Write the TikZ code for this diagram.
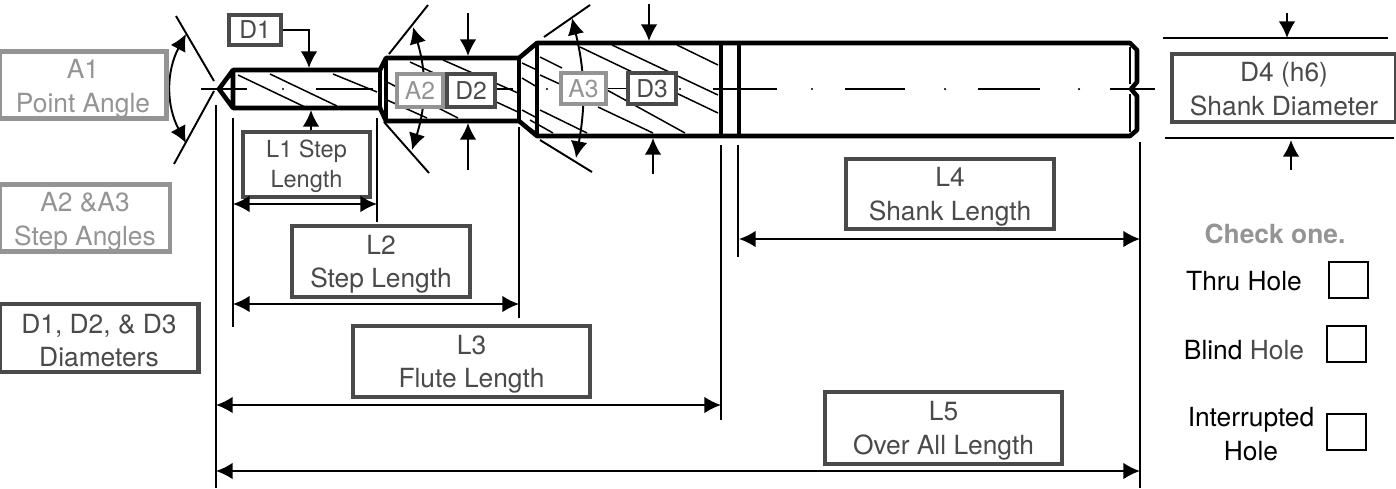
\documentclass[tikz,border=0pt]{standalone}
\usepackage{fontspec}
\setmainfont{TeX Gyre Heros}
\usetikzlibrary{arrows.meta}
\usetikzlibrary{positioning}
\definecolor{boxdark}{HTML}{4A4A4A}
\definecolor{boxlight}{HTML}{949494}
\tikzstyle{arrow} = [line width=1.1pt,-{Latex[length=9.5pt,width=9.5pt]}]
\tikzstyle{darrow} = [line width=1.1pt,{Latex[length=9.5pt,width=9.5pt]}-{Latex[length=9.5pt,width=9.5pt]}]
\tikzstyle{thin line} = [line width=1.1pt]
\tikzstyle{outline} = [line width=2.6pt,line join=round]
\tikzstyle{hatch} = [line width=.85pt]
\tikzstyle{darkbox} = [draw=boxdark,text=boxdark,fill=white,line width=2.4pt,align=center,inner sep=0pt,font=\fontsize{15}{19}\selectfont]
\tikzstyle{lightbox} = [darkbox,draw=boxlight,text=boxlight]
\tikzstyle{checkbox} = [draw=black,line width=1.3pt,minimum width=.78cm,minimum height=.71cm,inner sep=0pt]
\tikzstyle{plain} = [align=center,inner sep=0pt,font=\fontsize{15}{19}\selectfont]
\newcommand{\lowered}[1]{\rule{0pt}{#1}}
\begin{document}
\begin{tikzpicture}[x=.02cm,y=-.02cm]
            \useasboundingbox (0,0) rectangle (1396,488);
            % centre line
            \foreach \xa/\xb in {201/247,316/373,496/513,713/777,845/905,978/1040,1110/1155}
                \draw [hatch] (\xa,89) -- (\xb,89);
            \foreach \xa in {283,547,680,812,945,1079}
                \fill (\xa,89) circle (.7pt);
            % flutes
            \foreach \xa/\ya/\xb/\yb in {238/75/305/107,270/74/337/106,333/74/377/92,
                    443/60/518/93,410/62/518/112,387/82/458/118,387/100/427/118,
                    522/63/537/70,522/78/537/87,522/110/537/118,522/123/537/133,
                    540/57/562/68,540/75/562/85,540/110/587/133,530/120/553/133,
                    612/45/718/95,580/47/718/113,677/45/718/65,607/90/685/133,598/107/653/133}
                \draw [hatch] (\xa,\ya) -- (\xb,\yb);
            % drill body
            \draw [outline] (233,70) -- (219,89) -- (233,108) -- cycle;
            \draw [outline] (233,70) -- (380,70) -- (386,58) -- (519,58) -- (537,43) -- (1130,43)
                -- (1137,50) -- (1137,82) -- (1131,89) -- (1137,96) -- (1137,130) -- (1130,136)
                -- (537,136) -- (519,121) -- (386,121) -- (380,108) -- (233,108);
            \draw [outline] (380,70) -- (380,108);
            \draw [outline] (386,58) -- (386,121);
            \draw [outline] (519,58) -- (519,121);
            \draw [outline] (537,43) -- (537,136);
            \draw [outline] (721,43) -- (721,136);
            \draw [outline] (739,43) -- (739,136);
            \draw [hatch] (1130,47) -- (1130,84);
            \draw [hatch] (1130,94) -- (1130,132);
            % angle lines
            \draw [thin line] (176,16) -- (214,81);
            \draw [thin line] (174,164) -- (214,91);
            \draw [thin line] (428,5) -- (389,54);
            \draw [thin line] (429,173) -- (384,122);
            \draw [thin line] (544,37) -- (590,5);
            \draw [thin line] (540,140) -- (592,172);
            \coordinate (a1top) at (186,34);
            \coordinate (a1bot) at (186,143);
            \coordinate (a2top) at (413,27);
            \coordinate (a2bot) at (412,150);
            \coordinate (a3top) at (572,18);
            \coordinate (a3bot) at (576,158);
            \draw [darrow] (a1top) to[bend right=28] (a1bot);
            \draw [darrow] (a2top) to[bend left=17] (a2bot);
            \draw [darrow] (a3top) to[bend left=12] (a3bot);
            % labels
            \node (A1) [lightbox,minimum width=3.34cm,minimum height=1.34cm] at (83,85) {\lowered{15pt}A1\\Point Angle};
            \node (A23) [lightbox,minimum width=3.4cm,minimum height=1.34cm] at (85,218) {\lowered{15pt}A2 \&A3\\Step Angles};
            \node (D123) [darkbox,minimum width=3.98cm,minimum height=1.36cm] at (99,338) {\lowered{14pt}D1, D2, \& D3\\Diameters};
            \node (D1) [darkbox,font=\fontsize{14}{17}\selectfont,minimum width=1.04cm,minimum height=.6cm] at (255,30) {D1};
            \node (A2) [lightbox,font=\fontsize{14}{17}\selectfont,minimum width=.92cm,minimum height=.66cm] at (420,90.5) {A2};
            \node (D2) [darkbox,font=\fontsize{14}{17}\selectfont,minimum width=.96cm,minimum height=.66cm] at (471,90.5) {D2};
            \node (A3) [lightbox,font=\fontsize{14}{17}\selectfont,minimum width=.9cm,minimum height=.62cm] at (583.5,88.5) {A3};
            \node (D3) [darkbox,font=\fontsize{14}{17}\selectfont,minimum width=.96cm,minimum height=.62cm] at (652,88.5) {D3};
            \node (L1) [darkbox,font=\fontsize{13.4}{17.5}\selectfont,minimum width=2.54cm,minimum height=1.3cm] at (306.5,164.5) {\lowered{12pt}L1 Step\\Length};
            \node (L2) [darkbox,minimum width=3.56cm,minimum height=1.42cm] at (381,261.5) {\lowered{14pt}L2\\Step Length};
            \node (L3) [darkbox,minimum width=4.74cm,minimum height=1.42cm] at (471.5,361.5) {\lowered{14pt}L3\\Flute Length};
            \node (L4) [darkbox,minimum width=4.16cm,minimum height=1.4cm] at (950,194) {\lowered{14pt}L4\\Shank Length};
            \node (L5) [darkbox,minimum width=4.74cm,minimum height=1.44cm] at (943.5,428) {\lowered{14pt}L5\\Over All Length};
            \node (D4) [darkbox,minimum width=4.48cm,minimum height=1.36cm] at (1284,88) {\lowered{12pt}D4 (h6)\\Shank Diameter};
            \draw [thin line] (A3) -- (D3);
            % diameter arrows
            \coordinate (d1tip) at (309,68);
            \draw [arrow] (D1) -| (d1tip);
            \coordinate (l1tip) at (311,110);
            \draw [arrow] (L1.north -| l1tip) -- (l1tip);
            \coordinate (d2a) at (468,13);
            \coordinate (d2b) at (468,56);
            \coordinate (d2c) at (468,170);
            \coordinate (d2d) at (468,123);
            \draw [arrow] (d2a) -- (d2b);
            \draw [arrow] (d2c) -- (d2d);
            \coordinate (d3a) at (649,4);
            \coordinate (d3b) at (649,41);
            \coordinate (d3c) at (653,174);
            \coordinate (d3d) at (653,138);
            \draw [arrow] (d3a) -- (d3b);
            \draw [arrow] (d3c) -- (d3d);
            \coordinate (d4a) at (1287,13);
            \coordinate (d4b) at (1287,38);
            \coordinate (d4c) at (1291,170);
            \coordinate (d4d) at (1291,140);
            \draw [arrow] (d4a) -- (d4b);
            \draw [arrow] (d4c) -- (d4d);
            \draw [thin line] (1163,38) -- (1388,38);
            \draw [thin line] (1165,138) -- (1394,138);
            % extension lines
            \draw [thin line] (216,105) -- (216,488);
            \draw [thin line] (233,118) -- (233,327);
            \draw [thin line] (377,118) -- (377,222);
            \draw [thin line] (519,127) -- (519,318);
            \draw [thin line] (721,145) -- (721,420);
            \draw [thin line] (738,145) -- (738,257);
            \draw [thin line] (1140,142) -- (1140,488);
            % length dimensions
            \coordinate (l1a) at (233,204);
            \coordinate (l1b) at (377,204);
            \coordinate (l2a) at (233,304);
            \coordinate (l2b) at (519,304);
            \coordinate (l3a) at (216,405);
            \coordinate (l3b) at (721,405);
            \coordinate (l4a) at (739,239);
            \coordinate (l4b) at (1140,239);
            \coordinate (l5a) at (216,471);
            \coordinate (l5b) at (1140,471);
            \draw [darrow] (l1a) -- (l1b);
            \draw [darrow] (l2a) -- (l2b);
            \draw [darrow] (l3a) -- (l3b);
            \draw [darrow] (l4a) -- (l4b);
            \draw [darrow] (l5a) -- (l5b);
            % hole type
            \node (check) [plain,text=boxlight,font=\fontsize{15}{19}\selectfont\bfseries] at (1275,234) {Check one.};
            \node (thru) [plain] at (1244,281) {Thru Hole};
            \node (thrubox) [checkbox] at (1348.5,280) {};
            \node (blind) [plain] at (1244,350) {Blind \textcolor{boxdark}{Hole}};
            \node (blindbox) [checkbox] at (1346.5,344) {};
            \node (inter) [plain] at (1251,434) {Interrupted\\Hole};
            \node (interbox) [checkbox] at (1346.5,432) {};
        \end{tikzpicture}
\end{document}
